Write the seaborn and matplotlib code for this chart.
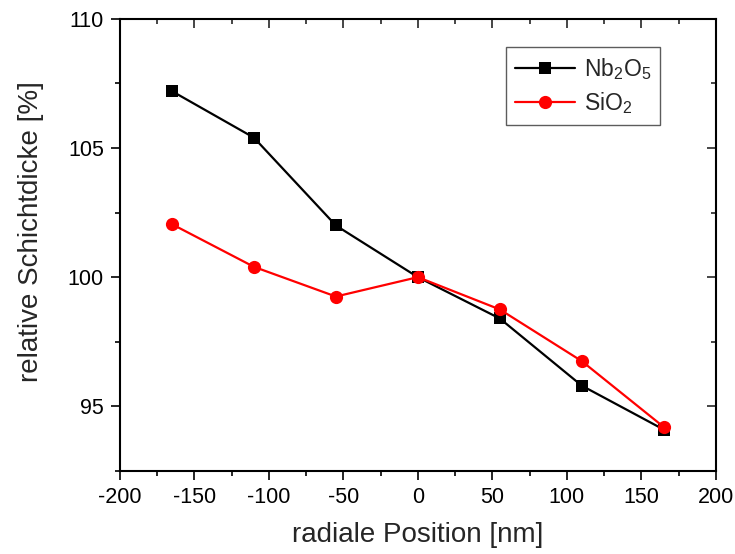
import matplotlib
matplotlib.use("Agg")
import matplotlib.pyplot as plt
from matplotlib.ticker import MultipleLocator
import seaborn as sns
import pandas as pd

positions = [-165, -110, -55, 0, 55, 110, 165]
nb2o5 = [107.2, 105.4, 102.0, 100.0, 98.4, 95.8, 94.1]
sio2 = [102.05, 100.4, 99.25, 100.0, 98.75, 96.75, 94.2]
series_names = ["Nb$_2$O$_5$", "SiO$_2$"]

sns.set_style("ticks")
plt.rcParams['font.family'] = ['Liberation Sans', 'DejaVu Sans']
plt.rcParams['mathtext.fontset'] = 'custom'
plt.rcParams['mathtext.rm'] = 'Liberation Sans'
plt.rcParams['mathtext.it'] = 'Liberation Sans'
plt.rcParams['mathtext.default'] = 'regular'
plt.rcParams['axes.unicode_minus'] = False

df = pd.DataFrame({
    "x": positions * 2,
    "y": nb2o5 + sio2,
    "series": [series_names[0]] * len(positions) + [series_names[1]] * len(positions),
})

fig = plt.figure(figsize=(7.35, 5.54), dpi=100)
ax = fig.add_axes([0.163, 0.150, 0.811, 0.816])

sns.lineplot(data=df, x="x", y="y", hue="series", style="series",
             palette={series_names[0]: "black", series_names[1]: "red"},
             markers={series_names[0]: "s", series_names[1]: "o"},
             dashes=False, markersize=8.5, markeredgewidth=0, linewidth=1.6,
             ax=ax, legend=False)
for ln in ax.get_lines():
    if ln.get_marker() == 'o':
        ln.set_markersize(9.5)

ax.set_xlim(-200, 200)
ax.set_ylim(92.5, 110)
ax.xaxis.set_major_locator(MultipleLocator(50))
ax.xaxis.set_minor_locator(MultipleLocator(25))
ax.yaxis.set_major_locator(MultipleLocator(5))
ax.yaxis.set_minor_locator(MultipleLocator(2.5))

ax.tick_params(axis='both', which='both', labelsize=15.5, width=1.2, colors='black')
ax.tick_params(which='major', length=6.5, pad=5)
ax.tick_params(which='minor', length=3.6)
sec_x = ax.secondary_xaxis('top')
sec_x.xaxis.set_major_locator(MultipleLocator(50))
sec_x.xaxis.set_minor_locator(MultipleLocator(25))
sec_x.tick_params(which='both', direction='in', labeltop=False, width=1.2)
sec_x.tick_params(which='major', length=6.5)
sec_x.tick_params(which='minor', length=3.6)
sec_y = ax.secondary_yaxis('right')
sec_y.yaxis.set_major_locator(MultipleLocator(5))
sec_y.yaxis.set_minor_locator(MultipleLocator(2.5))
sec_y.tick_params(which='both', direction='in', labelright=False, width=1.2)
sec_y.tick_params(which='major', length=6.5)
sec_y.tick_params(which='minor', length=3.6)
for s in ax.spines.values():
    s.set_linewidth(1.5)
    s.set_color('black')
sec_x.spines['top'].set_visible(False)
sec_y.spines['right'].set_visible(False)

ax.set_xlabel("radiale Position [nm]", fontsize=20, labelpad=10)
ax.set_ylabel("relative Schichtdicke [%]", fontsize=20, labelpad=12)
ax.yaxis.set_label_coords(-0.128, 0.53)

lines = ax.get_lines()
leg = ax.legend(lines[:2], series_names, loc='upper right',
                bbox_to_anchor=(0.907, 0.938), fontsize=16.5, frameon=True,
                fancybox=False, edgecolor='#333333', handlelength=2.6,
                handletextpad=0.4, borderpad=0.4, labelspacing=0.35,
                borderaxespad=0)
leg.get_frame().set_linewidth(1.0)

fig.savefig("out.png", dpi=100)
